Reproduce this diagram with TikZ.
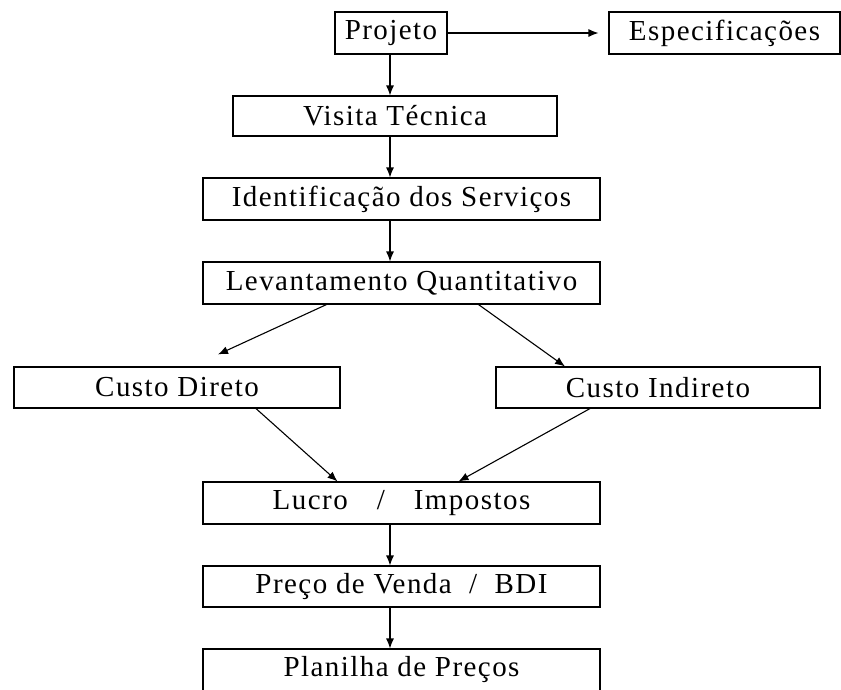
\documentclass[tikz,border=0pt]{standalone}
\usepackage{fontspec}
\setmainfont[LetterSpace=5]{Liberation Serif}
\usetikzlibrary{arrows.meta}

\tikzset{
  etapa/.style={draw, line width=1.1pt, inner sep=0pt, minimum height=42pt,
    font=\fontsize{29}{32}\selectfont},
  seta/.style={-{Latex[length=10pt,width=8pt]}, line width=1.1pt}
}

\begin{document}
\begin{tikzpicture}[x=1pt, y=1pt]
\useasboundingbox (0,0) rectangle (841,-689);
\coordinate (eixo) at (390,0);
\node [etapa, minimum width=112pt] (Projeto) at (391,-33) {Projeto};
\node [etapa, minimum width=231pt] (Especificacoes) at (724.5,-33) {Especificações};
\node [etapa, minimum width=324pt, minimum height=40pt] (Visita) at (395,-116) {Visita Técnica};
\node [etapa, minimum width=397pt] (Identificacao) at (401.5,-199) {Identificação dos Serviços};
\node [etapa, minimum width=397pt] (Levantamento) at (401.5,-283) {Levantamento Quantitativo};
\node [etapa, minimum width=326pt, minimum height=41pt] (Direto) at (177,-387.5) {Custo Direto};
\node [etapa, minimum width=324pt, minimum height=41pt] (Indireto) at (658,-387.5) {Custo Indireto};
\node [etapa, minimum width=397pt] (Lucro) at (401.5,-503) {Lucro\quad/\quad Impostos};
\node [etapa, minimum width=397pt, minimum height=41pt] (Preco) at (401.5,-586.5) {Preço de Venda~~/~~BDI};
\node [etapa, minimum width=397pt] (Planilha) at (401.5,-670) {Planilha de Preços};

% fluxo do orcamento
\draw [seta, shorten >=10pt] (Projeto) -- (Especificacoes);
\draw [seta] (Projeto.south -| eixo) -- (Visita.north -| eixo);
\draw [seta] (Visita.south -| eixo) -- (Identificacao.north -| eixo);
\draw [seta] (Identificacao.south -| eixo) -- (Levantamento.north -| eixo);
\draw [seta] ([xshift=-75pt]Levantamento.south) -- ([xshift=41pt,yshift=12pt]Direto.north);
\draw [seta] ([xshift=77pt]Levantamento.south) -- ([xshift=-93pt]Indireto.north);
\draw [seta] ([xshift=79pt]Direto.south) -- ([xshift=-64pt]Lucro.north);
\draw [seta] ([xshift=-68pt]Indireto.south) -- ([xshift=57pt]Lucro.north);
\draw [seta] (Lucro.south -| eixo) -- (Preco.north -| eixo);
\draw [seta] (Preco.south -| eixo) -- (Planilha.north -| eixo);
\end{tikzpicture}
\end{document}
